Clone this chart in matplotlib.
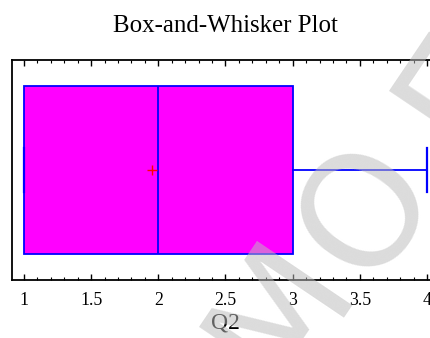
import numpy as np
import matplotlib
matplotlib.use("Agg")
import matplotlib.pyplot as plt
from matplotlib.ticker import MultipleLocator

# ---------------- data ----------------
var_name = "Q2"
q_min = 1.0
q1 = 1.0
median = 2.0
q3 = 3.0
q_max = 4.0
mean = 1.95

major_ticks = [1, 1.5, 2, 2.5, 3, 3.5, 4]
tick_labels = ["1", "1.5", "2", "2.5", "3", "3.5", "4"]

stats = [{
    "med": median, "q1": q1, "q3": q3,
    "whislo": q_min, "whishi": q_max,
    "mean": mean, "fliers": [],
}]

plt.rcParams["font.family"] = ["Liberation Serif", "DejaVu Serif"]

fig = plt.figure(figsize=(4.31, 3.38), dpi=100)
ax = fig.add_axes([12.3 / 431, 1 - 280 / 338, 426.4 / 431, 220 / 338])

ax.bxp(stats, positions=[0.5], widths=0.764, vert=False, showmeans=True,
       patch_artist=True, capwidths=0.2,
       boxprops=dict(facecolor="#ff00ff", edgecolor="#0000ff", linewidth=1.3),
       medianprops=dict(color="#0000ff", linewidth=1.3),
       whiskerprops=dict(color="#0000ff", linewidth=1.3),
       capprops=dict(color="#0000ff", linewidth=1.6),
       meanprops=dict(marker="+", markeredgecolor="red", markersize=7,
                      markeredgewidth=1.0))

ax.set_xlim(1 - 11.7 / 134.3, 4 + 11.7 / 134.3)
ax.set_ylim(0, 1)
ax.set_xticks(major_ticks)
ax.set_xticklabels(tick_labels)
ax.xaxis.set_minor_locator(MultipleLocator(0.1))
ax.set_yticks([])
ax.tick_params(axis="x", which="both", direction="in", top=True, bottom=True,
               labelsize=12.8, pad=8.5, color="black")
ax.tick_params(axis="x", which="major", length=4, width=1.0)
ax.tick_params(axis="x", which="minor", length=2, width=0.8)
for side in ["left", "bottom", "top", "right"]:
    ax.spines[side].set_linewidth(1.3)

ax.set_xlabel(var_name, fontsize=17, labelpad=3)
ax.set_title("Box-and-Whisker Plot", fontsize=17.9, pad=20)

# faint diagonal stamp over the plot (anchored on each letter's baseline)
stamp = dict(fontsize=112, family="DejaVu Sans", color="#bcbcbc",
             alpha=0.53, rotation=56, rotation_mode="anchor",
             ha="center", va="baseline", zorder=10)
fig.text(317 / 431, 1 - 335 / 338, "M", **stamp)
fig.text(404 / 431, 1 - 235 / 338, "O", **stamp)
fig.text(497 / 431, 1 - 114 / 338, "E", **stamp)

fig.savefig("out.png", dpi=100)
